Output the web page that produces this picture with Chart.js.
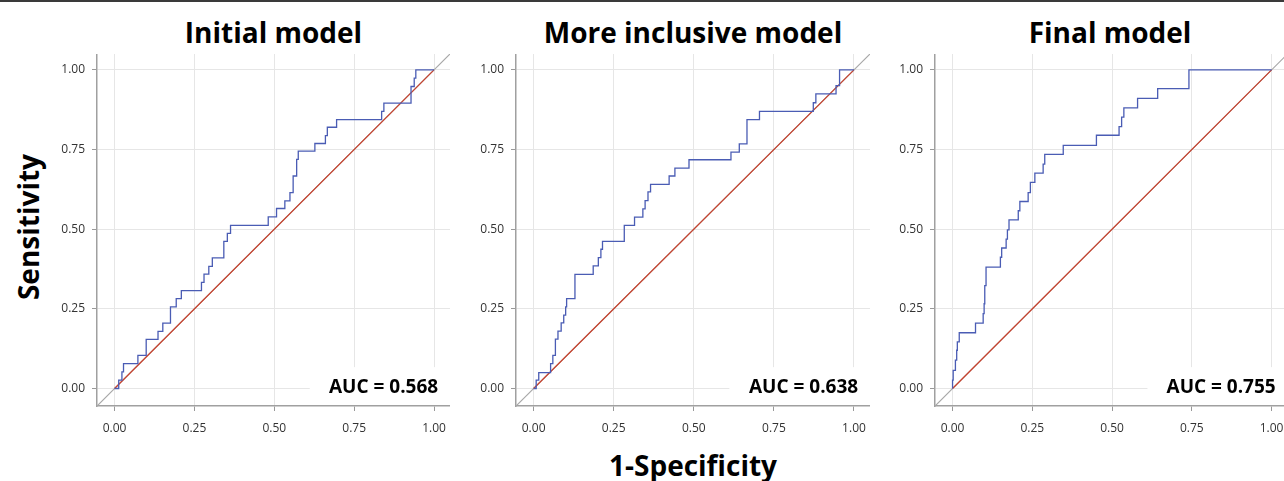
<!DOCTYPE html>
<html lang="en">
  <head>
    <meta charset="UTF-8" />
    <title>ROC curves</title>
    <script src="https://cdn.jsdelivr.net/npm/chart.js"></script>
    <style>
      body {
        margin: 0;
        width: 1284px;
        height: 481px;
        background: #fff;
        position: relative;
        overflow: hidden;
        font-family: "Open Sans", Arial, sans-serif;
      }
      .topline {
        position: absolute;
        left: 0;
        top: 0;
        width: 1284px;
        height: 2px;
        background: #3a3a3a;
      }
      .panel {
        position: absolute;
        top: 54px;
      }
      .title {
        position: absolute;
        top: 12px;
        font-weight: 700;
        font-size: 28px;
        color: #000;
        transform: translateX(-50%);
        white-space: nowrap;
        line-height: 40px;
      }
      .ylab {
        position: absolute;
        left: 28px;
        top: 227px;
        font-weight: 700;
        font-size: 28px;
        transform: translate(-50%, -50%) rotate(-90deg);
        white-space: nowrap;
      }
      .xlab {
        position: absolute;
        left: 693px;
        top: 465px;
        font-weight: 700;
        font-size: 28px;
        transform: translate(-50%, -50%);
        white-space: nowrap;
      }
    </style>
  </head>
  <body>
    <div class="topline"></div>
    <div class="ylab">Sensitivity</div>
    <div class="xlab">1-Specificity</div>

    <script>
      const tickValues = [0, 0.25, 0.5, 0.75, 1];
      const tickLabels = ["0.00", "0.25", "0.50", "0.75", "1.00"];
      const panelTitles = ["Initial model", "More inclusive model", "Final model"];
      const aucLabels = ["AUC = 0.568", "AUC = 0.638", "AUC = 0.755"];
      const axisMin = -0.055;
      const axisMax = 1.05;

      // ROC points (1-specificity, sensitivity)
      const initialFpr = [0, 0.013, 0.023, 0.028, 0.073, 0.099, 0.136, 0.151, 0.175, 0.193, 0.209, 0.272, 0.28, 0.295, 0.306, 0.342, 0.353, 0.363, 0.481, 0.507, 0.533, 0.549, 0.559, 0.57, 0.575, 0.627, 0.66, 0.666, 0.695, 0.836, 0.843, 0.928, 0.938, 0.943, 1];
      const initialTpr = [0, 0.026, 0.052, 0.078, 0.104, 0.154, 0.179, 0.205, 0.256, 0.282, 0.307, 0.333, 0.359, 0.383, 0.41, 0.462, 0.487, 0.512, 0.539, 0.565, 0.589, 0.615, 0.667, 0.719, 0.745, 0.769, 0.794, 0.82, 0.844, 0.87, 0.896, 0.948, 0.974, 1, 1];

      const inclusiveFpr = [0, 0.008, 0.016, 0.053, 0.06, 0.068, 0.076, 0.086, 0.094, 0.1, 0.103, 0.129, 0.186, 0.202, 0.21, 0.215, 0.283, 0.315, 0.341, 0.348, 0.357, 0.365, 0.423, 0.441, 0.485, 0.616, 0.642, 0.666, 0.705, 0.873, 0.881, 0.944, 0.955, 1];
      const inclusiveTpr = [0, 0.026, 0.05, 0.078, 0.104, 0.155, 0.18, 0.206, 0.23, 0.256, 0.282, 0.358, 0.385, 0.411, 0.437, 0.462, 0.512, 0.538, 0.564, 0.59, 0.617, 0.641, 0.667, 0.692, 0.718, 0.742, 0.768, 0.844, 0.87, 0.897, 0.925, 0.951, 1, 1];

      const finalFpr = [0, 0, 0.002, 0.009, 0.013, 0.015, 0.021, 0.072, 0.096, 0.099, 0.101, 0.105, 0.15, 0.154, 0.168, 0.172, 0.177, 0.206, 0.211, 0.237, 0.244, 0.258, 0.284, 0.289, 0.347, 0.451, 0.522, 0.53, 0.537, 0.58, 0.643, 0.741, 1];
      const finalTpr = [0, 0.026, 0.057, 0.089, 0.12, 0.146, 0.175, 0.205, 0.235, 0.266, 0.323, 0.381, 0.412, 0.441, 0.469, 0.498, 0.529, 0.558, 0.587, 0.615, 0.647, 0.676, 0.704, 0.735, 0.763, 0.795, 0.822, 0.852, 0.881, 0.911, 0.941, 1, 1];

      const panels = [
        { fpr: initialFpr, tpr: initialTpr, left: 47, width: 403, xMax: axisMax },
        { fpr: inclusiveFpr, tpr: inclusiveTpr, left: 466, width: 404, xMax: axisMax },
        { fpr: finalFpr, tpr: finalTpr, left: 885, width: 399, xMax: 1.039 },
      ];

      const toPoints = (xs, ys) => xs.map((x, i) => ({ x: x, y: ys[i] }));

      const noPad = (s) => {
        s.paddingTop = 0;
        s.paddingBottom = 0;
        s.paddingLeft = 0;
        s.paddingRight = 0;
      };

      const aucBox = {
        id: "aucBox",
        beforeDatasetsDraw(chart, args, opts) {
          const { ctx, chartArea, scales } = chart;
          const x0 = scales.x.getPixelForValue(0.611);
          const y0 = scales.y.getPixelForValue(0.067);
          ctx.save();
          ctx.fillStyle = "#fff";
          ctx.fillRect(x0, y0, chartArea.right - x0 + 2, chartArea.bottom - 1 - y0);
          ctx.fillStyle = "#000";
          ctx.font = "700 19px 'Open Sans', Arial, sans-serif";
          ctx.textAlign = "right";
          ctx.textBaseline = "middle";
          ctx.fillText(opts.text, scales.x.getPixelForValue(1.013), scales.y.getPixelForValue(0.004));
          ctx.restore();
        },
      };

      panels.forEach((p, i) => {
        const wrap = document.createElement("div");
        wrap.className = "panel";
        wrap.style.left = p.left + "px";
        const canvas = document.createElement("canvas");
        canvas.width = p.width;
        canvas.height = 392;
        wrap.appendChild(canvas);
        document.body.appendChild(wrap);

        const title = document.createElement("div");
        title.className = "title";
        title.textContent = panelTitles[i];
        title.style.left = (p.left + 50 + (p.width - 50) / 2) + "px";
        if (i === 2) title.style.left = "1110px";
        document.body.appendChild(title);

        new Chart(canvas.getContext("2d"), {
          type: "line",
          data: {
            datasets: [
              {
                data: toPoints(p.fpr, p.tpr),
                borderColor: "#4a5cb4",
                borderWidth: 1.3,
                stepped: "before",
                pointRadius: 0,
              },
              {
                data: toPoints([0, 1], [0, 1]),
                borderColor: "#c8412c",
                borderWidth: 1.2,
                pointRadius: 0,
              },
              {
                data: toPoints([axisMin, axisMax], [axisMin, axisMax]),
                borderColor: "#a8a8a8",
                borderWidth: 1.2,
                pointRadius: 0,
              },
            ],
          },
          options: {
            responsive: false,
            animation: false,
            events: [],
            layout: { padding: 0 },
            plugins: {
              legend: { display: false },
              tooltip: { enabled: false },
              aucBox: { text: aucLabels[i] },
            },
            scales: {
              x: {
                type: "linear",
                min: axisMin,
                max: p.xMax,
                afterBuildTicks: (s) => {
                  s.ticks = tickValues.map((v) => ({ value: v }));
                },
                afterFit: (s) => {
                  s.height = 40;
                  noPad(s);
                },
                grid: { color: "#e6e6e6", lineWidth: 1, tickColor: "#999", tickLength: 5 },
                border: { color: "#a0a0a0", width: 1.5 },
                ticks: {
                  padding: 10,
                  color: "#333",
                  font: { family: "'Open Sans', Arial, sans-serif", size: 12 },
                  maxRotation: 0,
                  callback: (v) => tickLabels[tickValues.indexOf(v)],
                },
              },
              y: {
                type: "linear",
                min: axisMin,
                max: axisMax,
                afterBuildTicks: (s) => {
                  s.ticks = tickValues.map((v) => ({ value: v }));
                },
                afterFit: (s) => {
                  s.width = 50;
                  noPad(s);
                },
                grid: { color: "#e6e6e6", lineWidth: 1, tickColor: "#999", tickLength: 5 },
                border: { color: "#a0a0a0", width: 1.5 },
                ticks: {
                  padding: 7,
                  color: "#333",
                  font: { family: "'Open Sans', Arial, sans-serif", size: 12 },
                  callback: (v) => tickLabels[tickValues.indexOf(v)],
                },
              },
            },
          },
          plugins: [aucBox],
        });
      });
    </script>
  </body>
</html>
